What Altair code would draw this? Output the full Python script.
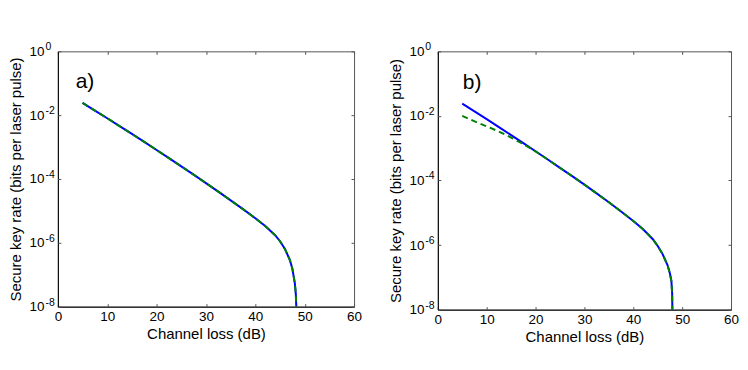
import altair as alt
import pandas as pd

FONT = "Liberation Sans"

# ---- data (exponents of 10) ----
a_blue_x = [5, 7.5, 10, 12.5, 15, 17.5, 20, 22.5, 25, 27.5, 30, 32.5, 35, 37.5, 40, 42, 44, 45, 46, 47, 47.5, 48.0, 48.2, 48.3]
a_blue_e = [-1.615, -1.855, -2.097, -2.342, -2.589, -2.839, -3.092, -3.347, -3.605, -3.865, -4.128, -4.396, -4.668, -4.946, -5.231, -5.471, -5.76, -5.95, -6.19, -6.54, -6.81, -7.26, -7.6, -8.0]
a_green_x = [5, 7.5, 10, 12.5, 15, 17.5, 20, 22.5, 25, 27.5, 30, 32.5, 35, 37.5, 40, 42, 44, 45, 46, 47, 47.5, 48.0, 48.2, 48.3]
a_green_e = [-1.615, -1.855, -2.097, -2.342, -2.589, -2.839, -3.092, -3.347, -3.605, -3.865, -4.128, -4.396, -4.668, -4.946, -5.231, -5.471, -5.76, -5.95, -6.19, -6.54, -6.81, -7.26, -7.6, -8.0]

b_blue_x = [5, 7.5, 10, 12.5, 15, 17.5, 20, 22.5, 25, 27.5, 30, 32.5, 35, 37.5, 40, 42, 44, 45, 46, 47, 47.5, 47.8, 47.95, 48.0]
b_blue_e = [-1.62, -1.86, -2.10, -2.345, -2.593, -2.843, -3.095, -3.35, -3.607, -3.867, -4.13, -4.40, -4.675, -4.96, -5.255, -5.51, -5.82, -6.03, -6.28, -6.62, -6.88, -7.12, -7.5, -8.0]
b_green_x = [5, 6.5, 8, 10, 12.5, 15, 17.5, 20, 22.5, 25, 27.5, 30, 32.5, 35, 37.5, 40, 42, 44, 45, 46, 47, 47.5, 47.8, 47.95, 48.0]
b_green_e = [-2.00, -2.10, -2.20, -2.325, -2.485, -2.67, -2.87, -3.10, -3.35, -3.607, -3.867, -4.13, -4.40, -4.675, -4.96, -5.255, -5.51, -5.82, -6.03, -6.28, -6.62, -6.88, -7.12, -7.5, -8.0]

X_TICKS = [0, 10, 20, 30, 40, 50, 60]
Y_TICKS = [1, 1e-2, 1e-4, 1e-6, 1e-8]
Y_BASE = "10"
Y_EXPONENTS = ["0", "-2", "-4", "-6", "-8"]

panel_labels = ["a)", "b)"]
label_x = [3.6, 5.1]
label_e = [-1.16, -1.17]

X_TITLE = "Channel loss (dB)"
Y_TITLE = "Secure key rate (bits per laser pulse)"

# exponent label expression built from the tick arrays
expr = "'" + Y_EXPONENTS[-1] + "'"
for v, l in reversed(list(zip(Y_TICKS[:-1], Y_EXPONENTS[:-1]))):
    expr = f"datum.value >= {v / 3:.3g} ? '{l}' : " + expr
EXP_EXPR = expr


def helper_axis(orient, offset, values):
    return alt.Axis(orient=orient, offset=offset, values=values, labels=False,
                    domain=False, ticks=True, tickSize=3, tickColor="#555",
                    grid=False, title=None, minExtent=0, maxExtent=0)


def panel(bx, be, gx, ge, lab, lx, le, W, H):
    blue = pd.DataFrame({"x": bx, "y": [10 ** e for e in be]})
    green = pd.DataFrame({"x": gx, "y": [10 ** e for e in ge]})
    txt = pd.DataFrame({"t": [lab], "x": [lx], "y": [10 ** le]})
    xsc = alt.Scale(domain=[0, 60], nice=False, zero=False)
    ysc = alt.Scale(type="log", domain=[1e-8, 1], nice=False)

    xmain = alt.Axis(orient="bottom", values=X_TICKS, ticks=False, grid=False,
                     domainColor="black", labelFontSize=13.5, titleFontSize=15,
                     labelPadding=3, titlePadding=3, title=X_TITLE, labelFlush=False,
                     labelColor="black", titleColor="black", titleFontWeight="normal")
    ymain = alt.Axis(orient="left", values=Y_TICKS, labelExpr="'" + Y_BASE + "'",
                     ticks=False, grid=False, domainColor="black", labelFontSize=13.5,
                     titleFontSize=15, labelPadding=14, titlePadding=5, title=Y_TITLE,
                     labelColor="black", titleColor="black", titleFontWeight="normal")
    yexp = alt.Axis(orient="left", values=Y_TICKS, labelExpr=EXP_EXPR, ticks=False,
                    grid=False, domain=False, labelFontSize=10.5, labelAlign="left",
                    labelBaseline="middle", labelOffset=-4.5, labelPadding=13,
                    labelColor="black", title=None, minExtent=0, maxExtent=0)

    l1 = alt.Chart(blue).mark_line(color="#0000ff", strokeWidth=2, clip=True).encode(
        x=alt.X("x:Q", scale=xsc, axis=xmain),
        y=alt.Y("y:Q", scale=ysc, axis=ymain),
    )
    l2 = alt.Chart(green).mark_line(color="#008000", strokeWidth=2,
                                    strokeDash=[6, 4], clip=True).encode(
        x=alt.X("x:Q", scale=xsc, axis=helper_axis("top", -H, X_TICKS)),
        y=alt.Y("y:Q", scale=ysc, axis=helper_axis("right", -W, Y_TICKS)),
    )
    l3 = alt.Chart(txt).mark_text(align="left", baseline="alphabetic", fontSize=21,
                                  font=FONT, color="black").encode(
        x=alt.X("x:Q", scale=xsc, axis=helper_axis("bottom", -H, X_TICKS)),
        y=alt.Y("y:Q", scale=ysc, axis=helper_axis("left", -W, Y_TICKS)),
        text="t:N",
    )
    l4 = alt.Chart(blue).mark_line(opacity=0).encode(
        x=alt.X("x:Q", scale=xsc, axis=None),
        y=alt.Y("y:Q", scale=ysc, axis=yexp),
    )
    return alt.layer(l1, l2, l3, l4).resolve_axis(x="independent", y="independent").properties(
        width=W, height=H)


pa = panel(a_blue_x, a_blue_e, a_green_x, a_green_e, panel_labels[0], label_x[0], label_e[0], 297, 256)
pb = panel(b_blue_x, b_blue_e, b_green_x, b_green_e, panel_labels[1], label_x[1], label_e[1], 294, 259)

chart = alt.hconcat(pa, pb, spacing=25).properties(
    padding={"left": 0, "top": 33, "right": 0, "bottom": 0},
    background="white",
).configure(font=FONT).configure_view(stroke="#555", strokeWidth=1)

chart.save("out.html", embed_options={"renderer": "svg", "actions": False})
